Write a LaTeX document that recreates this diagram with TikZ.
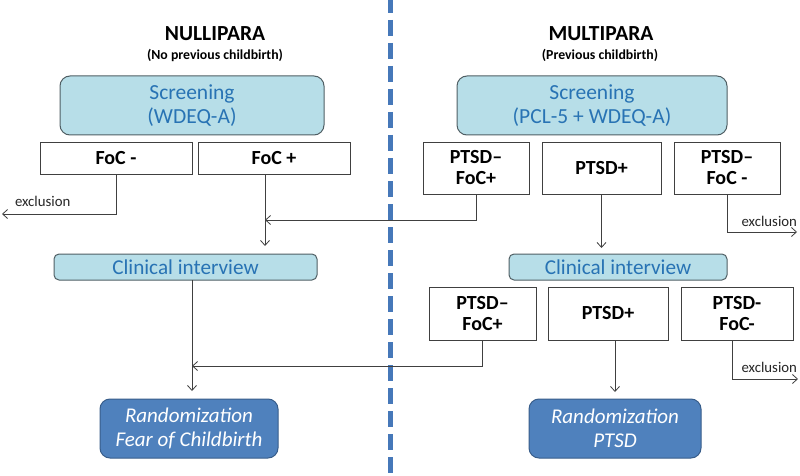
\documentclass[tikz,border=0pt]{standalone}
\usepackage{fontspec}
\setmainfont{Carlito}
\usetikzlibrary{arrows.meta}
\definecolor{lightbox}{RGB}{183,222,232}
\definecolor{lightborder}{RGB}{80,95,100}
\definecolor{bluetext}{RGB}{40,115,180}
\definecolor{darkbox}{RGB}{79,129,189}
\definecolor{darkborder}{RGB}{56,93,138}
\definecolor{divblue}{RGB}{70,120,185}
\definecolor{conn}{RGB}{64,64,64}
\tikzset{
  every node/.style={inner sep=0pt, outer sep=0pt, align=center},
  screenbox/.style={draw=lightborder, fill=lightbox, line width=1pt, rounded corners=10pt,
     text=bluetext, font=\fontsize{21.5}{24}\selectfont},
  clinbox/.style={draw=lightborder, fill=lightbox, line width=1pt, rounded corners=5pt,
     text=bluetext, font=\fontsize{21.2}{24}\selectfont, minimum height=26pt},
  resbox/.style={draw=conn, fill=white, line width=1pt, font=\bfseries\fontsize{20}{21}\selectfont},
  randbox/.style={draw=darkborder, fill=darkbox, line width=1pt, rounded corners=10pt,
     text=white, font=\itshape\fontsize{21}{24}\selectfont, minimum height=59pt},
  titletext/.style={font=\bfseries\fontsize{21.5}{22}\selectfont},
  subtext/.style={font=\bfseries\fontsize{13.8}{14}\selectfont},
  excltext/.style={font=\fontsize{14.8}{16}\selectfont, text=black!85},
  link/.style={draw=conn, line width=0.8pt, -{Straight Barb[length=5pt,width=9pt]}},
}
\begin{document}
\begin{tikzpicture}[x=1pt,y=-1pt]
\useasboundingbox (0,0) rectangle (800,476);
\fill[white] (0,0) rectangle (800,476);
% divider
\draw[line width=5pt, divblue, dash pattern=on 16pt off 7pt] (390,-3) -- (390,476);

% titles
\node[titletext] (tnull) at (215,33.5) {NULLIPARA};
\node[subtext] (snull) at (215,55) {(No previous childbirth)};
\node[titletext] (tmult) at (601,33.5) {MULTIPARA};
\node[subtext] (smult) at (600,55) {(Previous childbirth)};

% left side
\node[screenbox, minimum width=264pt, minimum height=59pt] (scrL) at (192,105.5) {Screening\\(WDEQ-A)};
\node[resbox, minimum width=152pt, minimum height=32pt] (focm) at (116,158) {FoC -};
\node[resbox, minimum width=152pt, minimum height=32pt] (focp) at (274,158) {FoC +};
\node[clinbox, minimum width=263pt] (cliL) at (185.5,267) {Clinical interview};
\node[randbox, minimum width=178pt] (randL) at (189,428.5) {Randomization\\Fear of Childbirth};

% right side
\node[screenbox, minimum width=270pt, minimum height=59pt] (scrR) at (592,105.5) {Screening\\(PCL-5 + WDEQ-A)};
\node[resbox, minimum width=106pt, minimum height=52pt] (ra) at (476,168) {PTSD–\\FoC+};
\node[resbox, minimum width=119pt, minimum height=52pt] (rb) at (601.5,168) {PTSD+};
\node[resbox, minimum width=106pt, minimum height=52pt] (rc) at (727,168) {PTSD–\\FoC -};
\node[clinbox, minimum width=218pt] (cliR) at (618,267) {Clinical interview};
\node[resbox, minimum width=107pt, minimum height=53pt] (sa) at (482.5,313.5) {PTSD–\\FoC+};
\node[resbox, minimum width=120pt, minimum height=53pt] (sb) at (608,313.5) {PTSD+};
\node[resbox, minimum width=112pt, minimum height=53pt] (sc) at (737,313.5) {PTSD-\\FoC-};
\node[randbox, minimum width=172pt] (randR) at (615,428.5) {Randomization\\PTSD};

% junctions and free ends
\coordinate (jL1) at (265,220);
\coordinate (jL2) at (192,366);
\coordinate (exL) at (2,214);
\coordinate (exR1) at (797,232);
\coordinate (exR2) at (798,379);

% connectors left
\draw[link] (focm.south) |- (exL);
\node[excltext, anchor=base west] (exLt) at (15,206) {exclusion};
\draw[link, shorten >=8pt] ([xshift=-9pt]focp.south) -- (cliL.north -| jL1);
\draw[link] (ra.south) |- (jL1);
\draw[link, shorten >=8pt] ([xshift=6.5pt]cliL.south) -- (randL.north -| jL2);
\draw[link] (sa.south) |- (jL2);

% connectors right
\draw[link, shorten >=6pt] (rb.south) -- (cliR.north -| rb.south);
\draw[link] (rc.south) |- (exR1);
\node[excltext, anchor=base east] (exR1t) at (797,226) {exclusion};
\draw[link, shorten >=7pt] ([xshift=7pt]sb.south) -- (randR.north);
\draw[link] ([xshift=-5pt]sc.south) |- (exR2);
\node[excltext, anchor=base east] (exR2t) at (797,372) {exclusion};
\end{tikzpicture}
\end{document}
